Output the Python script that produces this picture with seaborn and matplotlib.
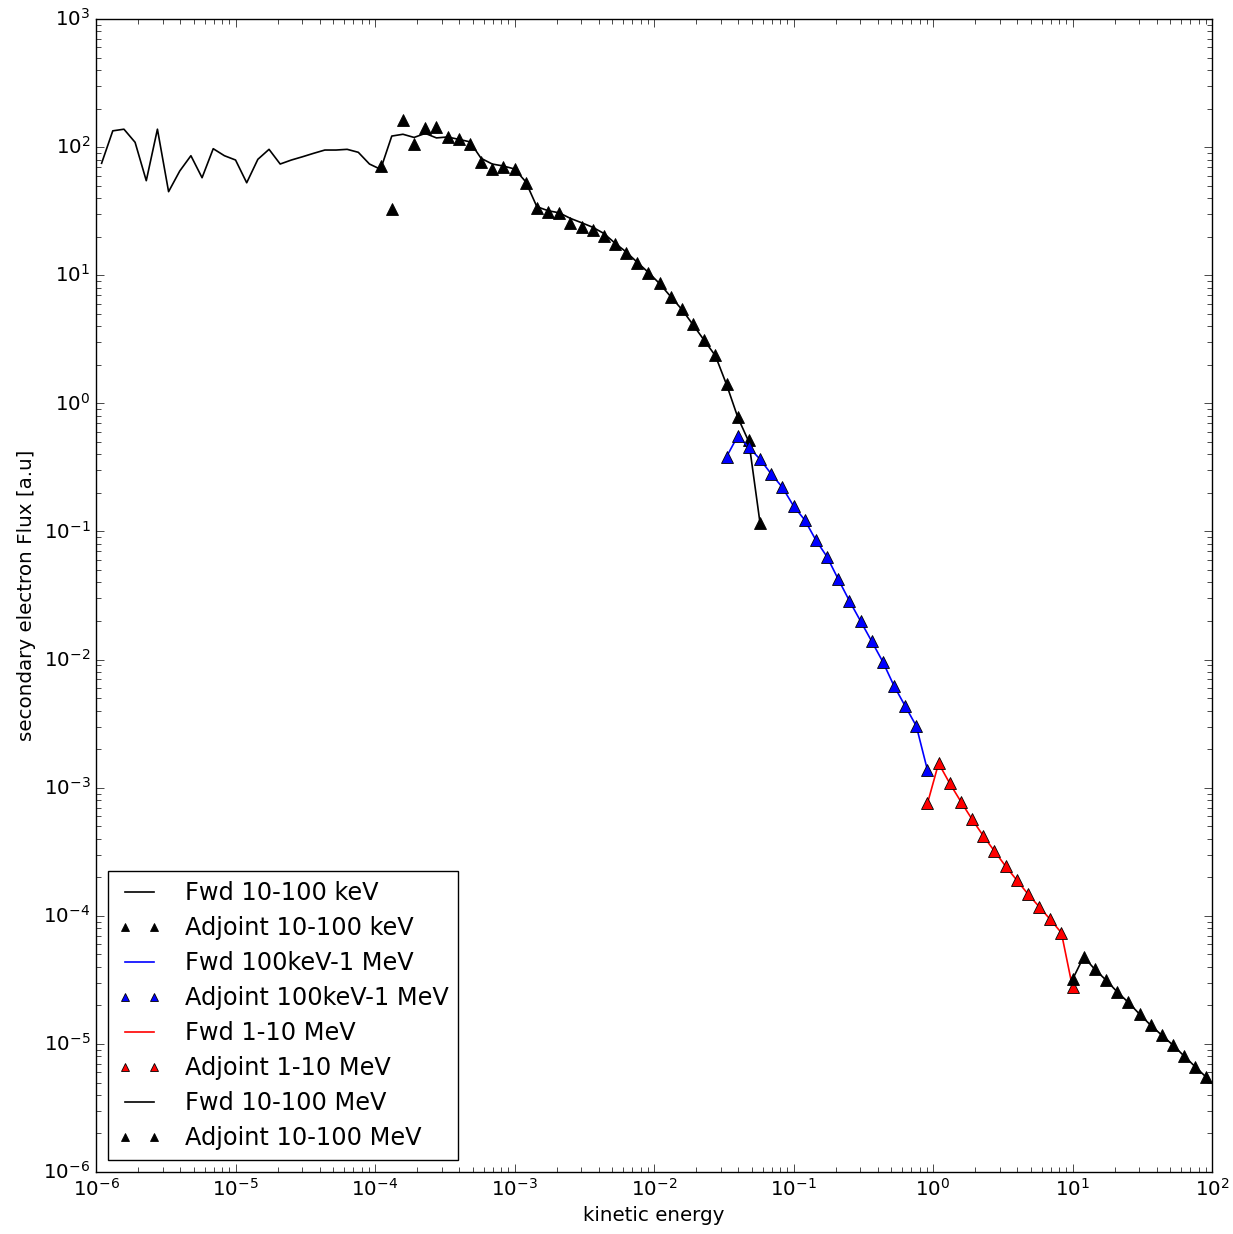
import matplotlib
matplotlib.use("Agg")
import matplotlib.pyplot as plt
import seaborn as sns
import pandas as pd

# energy bin centres (log bins), MeV
E_fwd_lo = [1.096e-6, 1.318e-6, 1.585e-6, 1.905e-6, 2.291e-6, 2.754e-6, 3.311e-6, 3.981e-6,
            4.786e-6, 5.754e-6, 6.918e-6, 8.318e-6, 1.000e-5, 1.202e-5, 1.445e-5, 1.738e-5,
            2.089e-5, 2.512e-5, 3.020e-5, 3.631e-5, 4.365e-5, 5.248e-5, 6.310e-5, 7.586e-5,
            9.120e-5, 1.096e-4, 1.318e-4, 1.585e-4, 1.905e-4, 2.291e-4, 2.754e-4, 3.311e-4,
            3.981e-4, 4.786e-4, 5.754e-4, 6.918e-4, 8.318e-4, 1.000e-3, 1.202e-3, 1.445e-3,
            1.738e-3, 2.089e-3, 2.512e-3, 3.020e-3, 3.631e-3, 4.365e-3, 5.248e-3, 6.310e-3,
            7.586e-3, 9.120e-3, 1.096e-2, 1.318e-2, 1.585e-2, 1.905e-2, 2.291e-2, 2.754e-2,
            3.311e-2, 3.981e-2, 4.786e-2, 5.754e-2]
flux_fwd_lo = [74.8, 134, 138, 109, 54.7, 138, 44.9, 65.1, 85.7, 57.7, 97.2, 85.7,
               79.3, 52.7, 80.3, 96.1, 73.8, 79.3, 84.1, 89.5, 94.9, 94.9, 96.1, 91.1,
               73.8, 67.1, 122, 126, 119, 128, 118, 120, 115, 110, 81.8, 73.8,
               71.2, 67.5, 53.7, 34.3, 31.9, 30.7, 27.8, 25.7, 23.7, 21.2, 17.8, 15.2,
               12.6, 10.5, 8.6, 6.8, 5.4, 4.1, 3.1, 2.35, 1.40, 0.78, 0.50, 0.116]

E_adj_lo = [1.096e-4, 1.318e-4, 1.585e-4, 1.905e-4, 2.291e-4, 2.754e-4, 3.311e-4, 3.981e-4,
            4.786e-4, 5.754e-4, 6.918e-4, 8.318e-4, 1.000e-3, 1.202e-3, 1.445e-3, 1.738e-3,
            2.089e-3, 2.512e-3, 3.020e-3, 3.631e-3, 4.365e-3, 5.248e-3, 6.310e-3, 7.586e-3,
            9.120e-3, 1.096e-2, 1.318e-2, 1.585e-2, 1.905e-2, 2.291e-2, 2.754e-2, 3.311e-2,
            3.981e-2, 4.786e-2, 5.754e-2]
flux_adj_lo = [71.2, 32.7, 163, 105, 140, 144, 120.6, 115.7, 105.7, 76.9, 67.1, 70.3,
               67.5, 52.7, 33.3, 31.0, 30.4, 25.4, 23.9, 22.5, 20.3, 17.4, 15.0, 12.5,
               10.5, 8.65, 6.80, 5.42, 4.16, 3.12, 2.38, 1.415, 0.778, 0.517, 0.1156]

E_mid = [3.311e-2, 3.981e-2, 4.786e-2, 5.754e-2, 6.918e-2, 8.318e-2, 0.1000, 0.1202,
         0.1445, 0.1738, 0.2089, 0.2512, 0.3020, 0.3631, 0.4365, 0.5248, 0.6310, 0.7586,
         0.9120]
flux_fwd_mid = [0.383, 0.556, 0.454, 0.366, 0.281, 0.221, 0.158, 0.123, 0.0857, 0.0634,
                0.0425, 0.0288, 0.0200, 0.0139, 0.00961, 0.00624, 0.00434, 0.00303, 0.00137]
flux_adj_mid = [0.383, 0.556, 0.454, 0.366, 0.281, 0.221, 0.158, 0.123, 0.0857, 0.0634,
                0.0425, 0.0288, 0.0200, 0.0139, 0.00961, 0.00624, 0.00434, 0.00303, 0.00137]

E_hi = [0.9120, 1.096, 1.318, 1.585, 1.905, 2.291, 2.754, 3.311, 3.981, 4.786, 5.754,
        6.918, 8.318, 10.00]
flux_fwd_hi = [7.54e-4, 1.55e-3, 1.08e-3, 7.77e-4, 5.66e-4, 4.21e-4, 3.20e-4, 2.44e-4,
               1.90e-4, 1.48e-4, 1.18e-4, 9.37e-5, 7.37e-5, 2.76e-5]
flux_adj_hi = [7.54e-4, 1.55e-3, 1.08e-3, 7.77e-4, 5.66e-4, 4.21e-4, 3.20e-4, 2.44e-4,
               1.90e-4, 1.48e-4, 1.18e-4, 9.37e-5, 7.37e-5, 2.76e-5]

E_top = [10.00, 12.02, 14.45, 17.38, 20.89, 25.12, 30.20, 36.31, 43.65, 52.48, 63.10,
         75.86, 91.20]
flux_fwd_top = [3.19e-5, 4.79e-5, 3.82e-5, 3.15e-5, 2.55e-5, 2.11e-5, 1.71e-5, 1.40e-5,
                1.17e-5, 9.79e-6, 8.04e-6, 6.63e-6, 5.48e-6]
flux_adj_top = [3.19e-5, 4.79e-5, 3.82e-5, 3.15e-5, 2.55e-5, 2.11e-5, 1.71e-5, 1.40e-5,
                1.17e-5, 9.79e-6, 8.04e-6, 6.63e-6, 5.48e-6]

series = [
    ("Fwd 10-100 keV", E_fwd_lo, flux_fwd_lo, "k", "line"),
    ("Adjoint 10-100 keV", E_adj_lo, flux_adj_lo, "k", "marker"),
    ("Fwd 100keV-1 MeV", E_mid, flux_fwd_mid, "b", "line"),
    ("Adjoint 100keV-1 MeV", E_mid, flux_adj_mid, "b", "marker"),
    ("Fwd 1-10 MeV", E_hi, flux_fwd_hi, "r", "line"),
    ("Adjoint 1-10 MeV", E_hi, flux_adj_hi, "r", "marker"),
    ("Fwd 10-100 MeV", E_top, flux_fwd_top, "k", "line"),
    ("Adjoint 10-100 MeV", E_top, flux_adj_top, "k", "marker"),
]

plt.style.use("classic")
plt.rcParams["font.family"] = ["DejaVu Sans"]
plt.rcParams["figure.facecolor"] = "white"

fig = plt.figure(figsize=(12.33, 12.34), dpi=100)
ax = fig.add_axes([0.0779, 0.0502, 0.9051, 0.9344])
ax.set_xscale("log")
ax.set_yscale("log")

for label, e, f, c, kind in series:
    df = pd.DataFrame({"energy": e, "flux": f})
    if kind == "line":
        sns.lineplot(data=df, x="energy", y="flux", ax=ax, color=c, lw=1.2,
                     estimator=None, label=label)
    else:
        sns.lineplot(data=df, x="energy", y="flux", ax=ax, color=c, linestyle="none",
                     marker="^", markersize=8, markeredgecolor="k",
                     markeredgewidth=0.6, estimator=None, label=label)

ax.set_xlim(1e-6, 1e2)
ax.set_ylim(1e-6, 1e3)
ax.set_xlabel("kinetic energy", fontsize=14.3)
ax.set_ylabel("secondary electron Flux [a.u]", fontsize=14.3)
ax.tick_params(which="both", direction="in", top=True, right=True, labelsize=14.3)
ax.tick_params(which="major", length=6)
ax.tick_params(which="minor", length=3.5)

ax.legend(loc="lower left", fontsize=17.3, numpoints=2, markerscale=0.75,
          frameon=True, fancybox=False, handlelength=1.8, handletextpad=1.0,
          labelspacing=0.46, borderaxespad=0.5)

plt.savefig("out.png", dpi=100)
plt.close()
